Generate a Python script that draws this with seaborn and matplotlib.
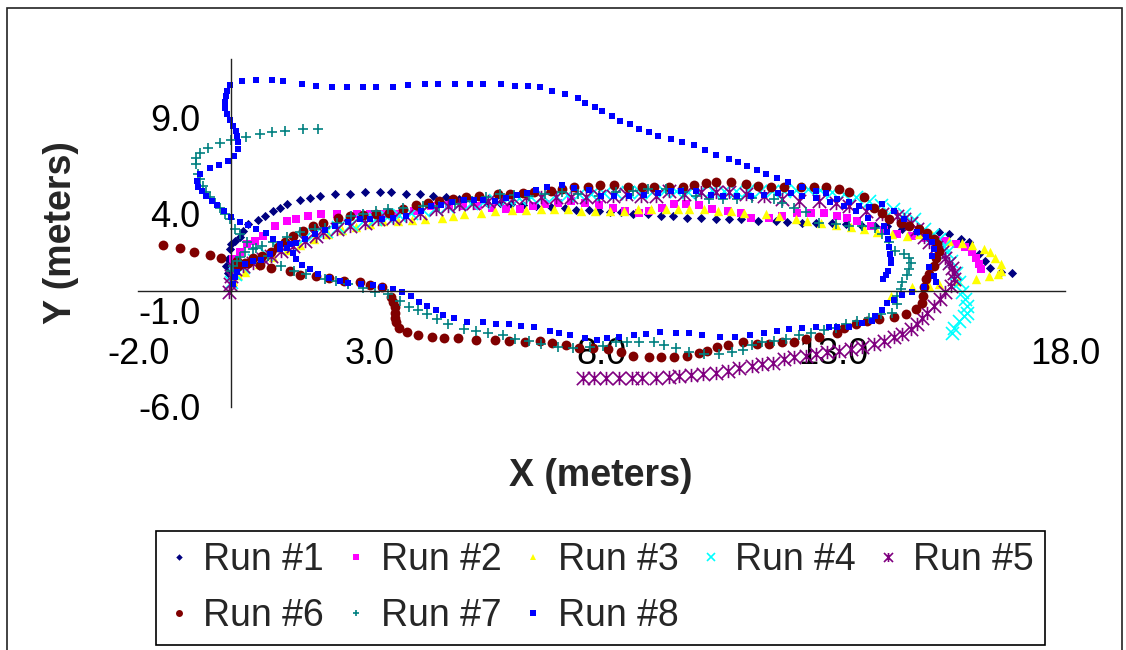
import matplotlib
matplotlib.use("Agg")
import matplotlib.pyplot as plt
from matplotlib.path import Path
from matplotlib.lines import Line2D
from matplotlib.patches import Rectangle
from matplotlib.ticker import FormatStrFormatter
import pandas as pd
import seaborn as sns

# Robot position logs, (x, y) in meters, one list per run
run1 = [(-0.06, 0.95), (-0.10, 1.30), (-0.06, 1.64), (-0.02, 2.16), (0.01, 2.42), (0.08, 2.59),
        (0.19, 2.77), (0.27, 3.10), (0.37, 3.46), (0.59, 3.66), (0.73, 3.89), (0.91, 4.15),
        (1.05, 4.32), (1.20, 4.49), (1.48, 4.72), (1.70, 4.80), (1.92, 4.92), (2.24, 5.01),
        (2.56, 5.01), (2.89, 5.10), (3.21, 5.10), (3.46, 5.10), (3.78, 5.01), (4.07, 5.01),
        (4.37, 4.92), (4.65, 4.87), (4.93, 4.75), (5.20, 4.68), (5.50, 4.60), (5.80, 4.55),
        (6.05, 4.50), (6.30, 4.46), (6.59, 4.40), (6.90, 4.36), (7.20, 4.32), (7.45, 4.20),
        (7.73, 4.20), (7.95, 4.12), (8.17, 4.09), (8.42, 4.09), (8.67, 4.01), (8.99, 3.97),
        (9.28, 3.89), (9.53, 3.89), (9.85, 3.80), (10.14, 3.80), (10.47, 3.72), (10.75, 3.72),
        (11.00, 3.72), (11.38, 3.63), (11.76, 3.63), (12.01, 3.58), (12.33, 3.54), (12.62, 3.54),
        (12.98, 3.51), (13.27, 3.46), (13.62, 3.37), (13.90, 3.35), (14.16, 3.34), (14.49, 3.20),
        (14.81, 3.11), (15.28, 3.06), (15.49, 2.94), (15.76, 2.68), (15.92, 2.54), (16.14, 1.90),
        (16.27, 1.55), (16.39, 1.21), (16.61, 0.98), (16.86, 0.92)]

run2 = [(0.05, 1.30), (0.05, 1.64), (0.19, 2.00), (0.34, 2.42), (0.52, 2.59), (0.69, 2.85),
        (0.95, 3.37), (1.20, 3.63), (1.41, 3.72), (1.66, 3.89), (1.95, 3.97), (2.28, 3.97),
        (2.71, 3.97), (2.99, 3.97), (3.28, 3.97), (3.57, 3.97), (3.95, 4.15), (4.32, 4.40),
        (4.70, 4.45), (5.00, 4.42), (5.33, 4.40), (5.64, 4.30), (5.94, 4.23), (6.23, 4.23),
        (6.51, 4.40), (6.77, 4.49), (7.05, 4.58), (7.34, 4.66), (7.63, 4.58), (7.95, 4.44),
        (8.24, 4.32), (8.51, 4.15), (8.80, 4.06), (9.03, 4.15), (9.30, 4.32), (9.57, 4.49),
        (9.82, 4.49), (10.11, 4.46), (10.39, 4.23), (10.72, 4.15), (11.00, 4.03), (11.22, 3.80),
        (11.61, 3.80), (11.90, 3.89), (12.22, 4.03), (12.51, 4.06), (12.80, 4.03), (13.09, 3.89),
        (13.30, 3.80), (13.52, 3.63), (13.81, 3.37), (14.10, 3.15), (14.38, 2.94), (14.70, 2.82),
        (15.00, 2.75), (15.22, 2.66), (15.42, 2.59), (15.64, 2.42), (15.85, 2.25), (16.00, 2.02),
        (16.07, 1.73), (16.14, 1.38), (16.18, 1.12)]

run3 = [(0.05, 0.50), (0.15, 0.80), (0.30, 1.00), (0.60, 1.40), (0.90, 1.75), (1.20, 2.10),
        (1.50, 2.40), (1.80, 2.70), (2.10, 2.95), (2.40, 3.15), (2.70, 3.30), (3.00, 3.45),
        (3.28, 3.60), (3.60, 3.62), (3.90, 3.68), (4.18, 3.72), (4.56, 3.80), (4.79, 3.89),
        (5.04, 3.97), (5.39, 4.06), (5.69, 4.15), (6.07, 4.20), (6.37, 4.20), (6.69, 4.23),
        (6.98, 4.23), (7.28, 4.23), (7.56, 4.15), (7.86, 4.15), (8.18, 4.15), (8.49, 4.15),
        (8.78, 4.23), (9.06, 4.23), (9.39, 4.23), (9.64, 4.23), (9.89, 4.23), (10.21, 4.23),
        (10.52, 4.15), (10.79, 4.15), (11.08, 4.06), (11.54, 3.97), (11.83, 3.89), (12.19, 3.72),
        (12.44, 3.63), (12.73, 3.54), (13.05, 3.42), (13.38, 3.32), (13.66, 3.20), (13.95, 3.06),
        (14.27, 2.97), (14.59, 2.85), (14.85, 2.94), (15.13, 2.88), (15.50, 2.59), (15.77, 2.47),
        (16.00, 2.37), (16.25, 2.16), (16.39, 1.99), (16.50, 1.68), (16.61, 1.38), (16.61, 1.04),
        (16.56, 0.87), (16.36, 0.75), (16.07, 0.64), (15.70, 0.50), (15.28, 0.35), (15.06, 0.26),
        (14.70, 0.18), (14.24, -0.26)]

run4 = [(0.00, 0.45), (0.08, 0.85), (0.25, 1.25), (0.50, 1.60), (0.76, 1.90), (1.02, 2.20),
        (1.28, 2.45), (1.55, 2.70), (1.80, 2.93), (2.06, 3.12), (2.32, 3.32), (2.58, 3.48),
        (2.84, 3.62), (3.10, 3.74), (3.36, 3.84), (3.62, 3.95), (3.88, 4.06), (4.14, 4.18),
        (4.40, 4.30), (4.66, 4.42), (4.92, 4.52), (5.18, 4.58), (5.44, 4.62), (5.70, 4.70),
        (5.96, 4.74), (6.22, 4.80), (6.48, 4.86), (6.74, 4.92), (7.00, 4.98), (7.26, 4.95),
        (7.52, 5.02), (7.78, 5.04), (8.04, 5.08), (8.30, 5.06), (8.56, 5.12), (8.82, 5.14),
        (9.08, 5.10), (9.34, 5.16), (9.60, 5.18), (9.86, 5.15), (10.12, 5.20), (10.38, 5.24),
        (10.64, 5.20), (10.90, 5.18), (11.16, 5.22), (11.42, 5.20), (11.68, 5.16), (11.94, 5.20),
        (12.20, 5.24), (12.46, 5.26), (12.72, 5.22), (12.98, 5.12), (13.24, 5.02), (13.50, 4.88),
        (13.76, 4.68), (14.02, 4.46), (14.28, 4.22), (14.52, 3.96), (14.74, 3.70), (14.96, 3.20),
        (15.12, 2.92), (15.28, 2.68), (15.38, 2.33), (15.45, 1.99), (15.53, 1.55), (15.64, 0.95),
        (15.71, 0.44), (15.78, -0.08), (15.85, -0.43), (15.89, -0.78), (15.89, -1.12),
        (15.82, -1.30), (15.71, -1.55), (15.60, -1.90), (15.57, -2.16)]

run5 = [(-0.04, -0.05), (-0.02, 0.35), (0.01, 0.78), (0.08, 1.12), (0.26, 1.30), (0.48, 1.47),
        (0.69, 1.64), (0.87, 1.81), (1.09, 2.07), (1.34, 2.33), (1.59, 2.59), (1.84, 2.85),
        (1.99, 3.03), (2.28, 3.20), (2.56, 3.37), (2.89, 3.54), (3.17, 3.72), (3.50, 3.80),
        (3.78, 3.89), (4.07, 4.06), (4.43, 4.23), (4.68, 4.40), (4.93, 4.49), (5.22, 4.58),
        (5.54, 4.66), (5.83, 4.75), (6.08, 4.79), (6.37, 4.84), (6.69, 4.84), (7.02, 4.84),
        (7.34, 4.84), (7.66, 4.89), (7.95, 4.92), (8.24, 4.92), (8.53, 5.01), (8.85, 4.92),
        (9.17, 4.92), (9.46, 5.18), (9.78, 5.01), (10.14, 5.10), (10.47, 5.10), (10.75, 5.10),
        (11.11, 5.01), (11.51, 4.92), (11.90, 4.75), (12.26, 4.66), (12.69, 4.66), (13.05, 4.58),
        (13.34, 4.40), (13.70, 4.15), (14.05, 4.00), (14.38, 3.89), (14.52, 3.75), (14.67, 3.54),
        (14.81, 3.20), (14.96, 2.77), (15.06, 2.51), (15.21, 2.25), (15.35, 1.99), (15.42, 1.73),
        (15.49, 1.47), (15.56, 1.21), (15.60, 0.95), (15.60, 0.61), (15.53, 0.26), (15.42, -0.08),
        (15.31, -0.43), (15.17, -0.78), (15.03, -1.12), (14.92, -1.40), (14.80, -1.70),
        (14.67, -1.98), (14.49, -2.24), (14.31, -2.41), (14.09, -2.59), (13.88, -2.76),
        (13.62, -2.93), (13.38, -3.02), (13.12, -3.11), (12.87, -3.19), (12.62, -3.28),
        (12.40, -3.37), (12.15, -3.45), (11.94, -3.54), (11.69, -3.71), (11.47, -3.80),
        (11.25, -3.89), (10.97, -3.97), (10.72, -4.15), (10.47, -4.23), (10.18, -4.32),
        (9.93, -4.37), (9.67, -4.40), (9.46, -4.46), (9.17, -4.49), (8.88, -4.52), (8.65, -4.52),
        (8.38, -4.52), (8.10, -4.52), (7.84, -4.52), (7.60, -4.50)]

run6 = [(-1.46, 2.37), (-1.10, 2.20), (-0.79, 2.02), (-0.45, 1.85), (-0.22, 1.68), (0.12, 1.55),
        (0.37, 1.42), (0.62, 1.32), (0.87, 1.21), (1.27, 1.04), (1.48, 0.81), (1.83, 0.78),
        (2.12, 0.69), (2.45, 0.52), (2.78, 0.44), (2.99, 0.30), (3.25, 0.18), (3.46, -0.34),
        (3.50, -0.60), (3.53, -0.86), (3.53, -1.12), (3.53, -1.38), (3.57, -1.61), (3.62, -1.90),
        (3.80, -2.12), (4.03, -2.30), (4.34, -2.38), (4.59, -2.45), (4.90, -2.45), (5.28, -2.54),
        (5.69, -2.54), (6.00, -2.62), (6.35, -2.64), (6.66, -2.62), (6.93, -2.71), (7.23, -2.81),
        (7.52, -2.97), (7.81, -2.98), (8.13, -3.02), (8.42, -3.16), (8.67, -3.37), (9.03, -3.45),
        (9.28, -3.45), (9.57, -3.45), (9.85, -3.37), (10.11, -3.24), (10.28, -3.11), (10.49, -2.93),
        (10.72, -2.80), (11.04, -2.67), (11.36, -2.76), (11.61, -2.76), (11.90, -2.67),
        (12.15, -2.67), (12.41, -2.50), (12.69, -2.41), (13.07, -2.16), (13.23, -1.90),
        (13.48, -1.73), (13.73, -1.55), (13.98, -1.47), (14.31, -1.33), (14.56, -1.21),
        (14.78, -0.95), (14.92, -0.62), (14.93, -0.26), (14.96, 0.18), (15.00, 0.61), (15.06, 0.87),
        (15.17, 1.30), (15.22, 1.73), (15.28, 2.07), (15.24, 2.42), (15.17, 2.68), (15.03, 2.99),
        (14.85, 3.20), (14.63, 3.37), (14.45, 3.54), (14.20, 3.72), (14.06, 4.06), (13.88, 4.32),
        (13.66, 4.84), (13.34, 5.10), (13.12, 5.27), (12.84, 5.36), (12.58, 5.36), (12.30, 5.36),
        (11.94, 5.36), (11.65, 5.36), (11.38, 5.44), (11.11, 5.53), (10.79, 5.62), (10.47, 5.65),
        (10.25, 5.58), (10.00, 5.48), (9.75, 5.36), (9.46, 5.36), (9.14, 5.36), (8.87, 5.39),
        (8.56, 5.39), (8.27, 5.48), (7.97, 5.48), (7.70, 5.39), (7.41, 5.36), (7.15, 5.27),
        (6.91, 5.18), (6.55, 5.10), (6.30, 5.06), (6.03, 5.01), (5.76, 5.01), (5.36, 4.92),
        (5.08, 4.84), (4.79, 4.75), (4.50, 4.66), (4.25, 4.54), (4.00, 4.44), (3.71, 4.23),
        (3.42, 4.06), (3.14, 3.97), (2.85, 3.95), (2.56, 3.89), (2.31, 3.80), (1.99, 3.54),
        (1.77, 3.37), (1.56, 3.11), (1.34, 2.85), (1.16, 2.51), (1.02, 2.25), (0.87, 1.99),
        (0.66, 1.81), (0.48, 1.68), (0.30, 1.47), (0.16, 1.30)]

run7 = [(1.88, 8.38), (1.55, 8.38), (1.16, 8.29), (0.88, 8.21), (0.62, 8.12), (0.32, 7.95),
        (0.01, 7.81), (-0.24, 7.64), (-0.49, 7.38), (-0.66, 7.17), (-0.76, 6.91), (-0.76, 6.56),
        (-0.71, 6.05), (-0.67, 5.79), (-0.60, 5.44), (-0.53, 5.10), (-0.45, 4.84), (-0.35, 4.58),
        (-0.24, 4.32), (-0.13, 3.97), (-0.02, 3.72), (0.08, 3.20), (0.19, 2.94), (0.35, 2.55),
        (0.55, 2.20), (0.80, 1.80), (1.09, 1.30), (1.35, 1.05), (1.62, 0.85), (2.03, 0.60),
        (2.27, 0.52), (2.52, 0.35), (2.85, 0.14), (3.10, -0.08), (3.39, -0.17), (3.64, -0.52),
        (3.85, -0.83), (4.03, -1.00), (4.22, -1.21), (4.44, -1.47), (4.68, -1.73), (5.04, -1.95),
        (5.28, -2.07), (5.54, -2.16), (5.87, -2.30), (6.14, -2.47), (6.44, -2.59), (6.69, -2.76),
        (7.05, -2.90), (7.38, -2.98), (7.74, -2.93), (8.02, -2.88), (8.31, -2.67), (8.55, -2.66),
        (8.81, -2.64), (9.14, -2.64), (9.35, -2.80), (9.60, -2.98), (9.89, -3.16), (10.21, -3.28),
        (10.54, -3.28), (10.82, -3.19), (11.04, -3.06), (11.25, -2.81), (11.47, -2.67),
        (11.72, -2.59), (11.97, -2.47), (12.26, -2.30), (12.51, -2.16), (12.80, -2.04),
        (13.05, -1.90), (13.27, -1.73), (13.52, -1.55), (13.77, -1.38), (14.02, -1.21),
        (14.27, -1.12), (14.38, -0.69), (14.38, -0.26), (14.45, 0.09), (14.49, 0.44), (14.59, 0.81),
        (14.63, 1.12), (14.67, 1.47), (14.63, 1.73), (14.52, 1.90), (14.34, 2.07), (14.20, 2.51),
        (14.06, 2.94), (13.91, 3.28), (13.62, 3.37), (13.34, 3.37), (13.05, 3.46), (12.69, 3.54),
        (12.41, 4.09), (12.15, 4.32), (11.90, 4.58), (11.72, 4.75), (11.25, 4.79), (10.93, 4.75),
        (10.61, 4.75), (10.32, 4.75), (10.03, 4.92), (9.75, 5.10), (9.39, 5.27), (8.99, 5.27),
        (8.67, 5.18), (8.31, 5.10), (7.95, 4.92), (7.48, 5.01), (7.15, 5.10), (6.77, 5.01),
        (6.44, 4.92), (6.10, 4.95), (5.80, 5.01), (5.50, 4.85), (5.21, 4.66), (4.83, 4.49),
        (4.50, 4.40), (4.14, 4.40), (3.71, 4.27), (3.39, 4.23), (3.14, 4.15), (2.85, 3.97),
        (2.60, 3.89), (2.28, 3.54), (2.02, 3.28), (1.81, 3.20), (1.48, 3.03), (1.20, 2.77),
        (0.91, 2.51), (0.66, 2.33), (0.48, 2.16), (0.30, 1.99), (0.19, 1.78), (0.12, 1.55),
        (0.05, 1.30), (0.01, 1.04)]

run8 = [(0.04, 0.35), (0.08, 0.71), (0.12, 0.97), (0.30, 1.38), (0.47, 1.55), (0.64, 1.61),
        (0.84, 1.90), (1.05, 2.16), (1.27, 2.42), (1.41, 2.47), (1.59, 2.68), (1.81, 2.94),
        (2.02, 3.14), (2.24, 3.35), (2.52, 3.56), (2.78, 3.72), (3.00, 3.72), (3.25, 3.72),
        (3.49, 3.77), (3.78, 3.89), (4.11, 4.15), (4.32, 4.40), (4.54, 4.46), (4.78, 4.61),
        (5.04, 4.70), (5.24, 4.70), (5.43, 4.72), (5.69, 4.66), (5.94, 4.80), (6.18, 4.96),
        (6.38, 5.08), (6.59, 5.22), (6.82, 5.39), (7.15, 5.49), (7.41, 5.32), (7.73, 5.23),
        (7.99, 4.92), (8.27, 4.92), (8.60, 4.92), (8.92, 4.97), (9.22, 5.06), (9.50, 5.17),
        (9.71, 5.18), (10.04, 5.17), (10.36, 4.96), (10.62, 4.92), (10.92, 4.92), (11.22, 4.92),
        (11.51, 4.97), (11.81, 5.06), (12.08, 5.06), (12.33, 4.92), (12.62, 4.80), (12.92, 4.62),
        (13.22, 4.40), (13.50, 4.15), (13.75, 3.80), (14.09, 3.37), (14.16, 3.04), (14.18, 2.68),
        (14.20, 2.26), (14.22, 1.90), (14.24, 1.61), (14.24, 1.44), (14.18, 1.04), (14.13, 0.81),
        (14.07, 0.61),
        (13.77, 4.34), (14.05, 4.49), (14.31, 4.13), (14.52, 3.72), (14.80, 3.04), (15.00, 2.78),
        (15.13, 2.52), (15.17, 2.16), (15.12, 1.80), (15.06, 1.24), (15.17, 0.78), (15.21, 0.44),
        (14.96, 0.18), (14.70, -0.07), (14.48, -0.22), (14.31, -0.48), (14.16, -0.64),
        (14.05, -1.00), (13.91, -1.31), (13.83, -1.55), (13.62, -1.67), (13.34, -1.88),
        (13.08, -1.87), (12.91, -1.88), (12.62, -1.88), (12.33, -1.93), (12.04, -1.98),
        (11.79, -2.07), (11.51, -2.19), (11.20, -2.30), (10.88, -2.38), (10.55, -2.38),
        (10.16, -2.28), (9.89, -2.19), (9.61, -2.19), (9.27, -2.14), (8.96, -2.24), (8.70, -2.30),
        (8.38, -2.40), (8.12, -2.45), (7.89, -2.54), (7.65, -2.45), (7.32, -2.28), (7.09, -2.19),
        (6.89, -2.07), (6.53, -1.88), (6.27, -1.81), (6.01, -1.73), (5.73, -1.73), (5.43, -1.62),
        (5.10, -1.62), (4.82, -1.41), (4.57, -1.24), (4.42, -0.98), (4.24, -0.79), (4.05, -0.57),
        (3.88, -0.27), (3.70, -0.07), (3.49, 0.09), (3.27, 0.19), (3.06, 0.31), (2.80, 0.34),
        (2.52, 0.40), (2.35, 0.50), (2.11, 0.66), (1.87, 0.87), (1.70, 1.12), (1.54, 1.35),
        (1.41, 1.64), (1.33, 1.95), (1.20, 2.21), (1.05, 2.42), (0.90, 2.68), (0.75, 2.99),
        (0.54, 3.20), (0.36, 3.42), (0.19, 3.56), (0.01, 3.82), (-0.15, 4.15), (-0.30, 4.44),
        (-0.42, 4.66), (-0.54, 4.92), (-0.63, 5.17), (-0.71, 5.39), (-0.74, 5.70), (-0.67, 6.05),
        (-0.45, 6.36), (-0.26, 6.53), (-0.07, 6.74), (0.06, 6.98), (0.15, 7.34), (0.15, 7.70),
        (0.13, 8.02), (0.10, 8.27), (0.04, 8.53), (-0.02, 8.84), (-0.09, 9.16), (-0.12, 9.47),
        (-0.13, 9.78), (-0.11, 10.09), (-0.09, 10.36), (-0.02, 10.66), (0.23, 10.88), (0.54, 10.93),
        (0.89, 10.93), (1.13, 10.88), (1.54, 10.71), (1.84, 10.62), (2.17, 10.54), (2.50, 10.54),
        (2.84, 10.55), (3.14, 10.55), (3.49, 10.55), (3.83, 10.66), (4.18, 10.71), (4.46, 10.71),
        (4.83, 10.71), (5.15, 10.71), (5.43, 10.71), (5.82, 10.71), (6.14, 10.61), (6.42, 10.61),
        (6.68, 10.55), (6.92, 10.35), (7.20, 10.19), (7.48, 9.98), (7.65, 9.73), (7.86, 9.52),
        (8.01, 9.31), (8.23, 9.05), (8.40, 8.79), (8.62, 8.64), (8.81, 8.38), (9.03, 8.22),
        (9.22, 8.02), (9.50, 7.86), (9.74, 7.70), (10.00, 7.55), (10.23, 7.29), (10.47, 7.03),
        (10.75, 6.82), (10.95, 6.67), (11.14, 6.46), (11.36, 6.25), (11.55, 6.05), (11.79, 5.84),
        (12.02, 5.63), (12.33, 5.37), (12.63, 5.17), (12.84, 5.06), (13.08, 4.75), (13.34, 4.60),
        (13.55, 4.39)]

runs = [run1, run2, run3, run4, run5, run6, run7, run8]
run_names = ["Run #1", "Run #2", "Run #3", "Run #4", "Run #5", "Run #6", "Run #7", "Run #8"]
run_colors = ["#000080", "#FF00FF", "#FFFF00", "#00FFFF", "#800080", "#800000", "#008080", "#0000FF"]

x_ticks = [-2.0, 3.0, 8.0, 13.0, 18.0]
y_ticks = [-6.0, -1.0, 4.0, 9.0]

sns.set_style("white")
plt.rcParams["font.family"] = ["Liberation Sans", "DejaVu Sans"]
plt.rcParams["axes.unicode_minus"] = False

# asterisk marker: an x with a vertical stroke through it
star = Path([(-1, -1), (1, 1), (-1, 1), (1, -1), (0, -1), (0, 1)],
            [Path.MOVETO, Path.LINETO, Path.MOVETO, Path.LINETO, Path.MOVETO, Path.LINETO])

marker_styles = [
    dict(marker="D", s=22, linewidth=0),
    dict(marker="s", s=40, linewidth=0),
    dict(marker="^", s=46, linewidth=0),
    dict(marker="x", s=88, linewidth=1.2),
    dict(marker=star, s=92, linewidth=1.2),
    dict(marker="o", s=50, linewidth=0),
    dict(marker="+", s=56, linewidth=1.2),
    dict(marker="s", s=24, linewidth=0),
]
legend_sizes = [3.3, 5.0, 5.0, 6.0, 6.5, 5.0, 5.0, 4.2]

W, H = 1126, 650
fig = plt.figure(figsize=(W / 100, H / 100), dpi=100)
ax = fig.add_axes([138.3 / W, 1 - 406.7 / H, (1065 - 138.3) / W, (406.7 - 59.3) / H])

for pts, name, col, st in zip(runs, run_names, run_colors, marker_styles):
    df = pd.DataFrame(pts, columns=["x", "y"])
    sns.scatterplot(data=df, x="x", y="y", ax=ax, color=col, edgecolor=col,
                    legend=False, **st)

ax.set_xlim(-2, 18)
ax.set_ylim(-6, 12)
ax.set_xticks(x_ticks)
ax.set_yticks(y_ticks)
ax.xaxis.set_major_formatter(FormatStrFormatter("%.1f"))
ax.yaxis.set_major_formatter(FormatStrFormatter("%.1f"))
ax.set_xlabel("")
ax.set_ylabel("")
ax.grid(False)

for side in ("top", "right"):
    ax.spines[side].set_visible(False)
ax.spines["left"].set_position(("data", 0))
ax.spines["bottom"].set_position(("data", 0))
for side in ("left", "bottom"):
    ax.spines[side].set_color("#222222")
    ax.spines[side].set_linewidth(1.0)

ax.tick_params(axis="both", direction="out", length=8.6, width=1.0, color="#222222",
               labelsize=26, labelcolor="black")
ax.tick_params(axis="x", pad=24.5)
ax.tick_params(axis="y", pad=13.5)

fig.text(601 / W, 1 - 476 / H, "X (meters)", ha="center", va="center",
         fontsize=27, fontweight="bold")
fig.text(61 / W, 1 - 233 / H, "Y (meters)", ha="center", va="center",
         rotation=90, fontsize=27, fontweight="bold")

# legend, filled row by row
handles = [Line2D([], [], linestyle="", marker=st["marker"], color=col,
                  markeredgecolor=col, markersize=ms,
                  markeredgewidth=st["linewidth"] if st["linewidth"] else 0.0)
           for col, st, ms in zip(run_colors, marker_styles, legend_sizes)]
order = [0, 5, 1, 6, 2, 7, 3, 4]
leg = fig.legend([handles[i] for i in order], [run_names[i] for i in order],
                 ncol=5, loc="upper left", bbox_to_anchor=(156 / W, 1 - 531 / H),
                 frameon=True, fancybox=False, edgecolor="black", framealpha=1,
                 fontsize=27, handlelength=0.6, handletextpad=0.36,
                 columnspacing=0.55, borderpad=0.3, labelspacing=0.53,
                 borderaxespad=0)
leg.get_frame().set_linewidth(1.2)

fig.add_artist(Rectangle((7 / W, -0.05), (1122 - 7) / W, 1.05 - 8 / H,
                         transform=fig.transFigure, fill=False,
                         edgecolor="#222222", linewidth=1.2))

fig.savefig("out.png", dpi=100, facecolor="white")
